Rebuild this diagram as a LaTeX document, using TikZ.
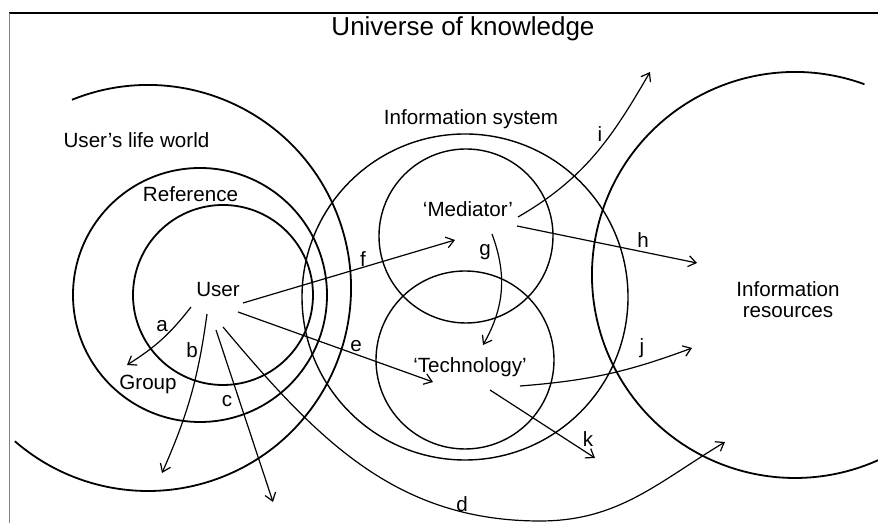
\documentclass[tikz,border=0pt]{standalone}
\usepackage{fontspec}
\setmainfont{Liberation Sans}
\usetikzlibrary{arrows.meta}
\begin{document}
\begin{tikzpicture}[x=0.5pt,y=0.5pt,
    ring/.style={line width=0.9pt},
    lbl/.style={anchor=base,inner sep=0pt,font=\fontsize{10.3}{11}\selectfont},
    >={Straight Barb[length=3.8pt,width=5.5pt]}]
  \useasboundingbox (0,0) rectangle (878,523);
  \draw[line width=0.8pt] (9,510) -- (878,510);
  \draw[gray,line width=0.5pt] (9,510) -- (9,0);
  \draw[ring] (148,235) ++(112:203) arc[start angle=112,end angle=-131,radius=203];
  \draw[ring] (200,228) circle[radius=127];
  \draw[ring] (223,228) circle[radius=90];
  \draw[ring,line width=0.7pt] (465,226) circle[radius=163];
  \draw[ring,line width=0.7pt] (466,287) circle[radius=87];
  \draw[ring,line width=0.7pt] (465,163) circle[radius=89];
  \draw[ring] (795,248) ++(70:203) arc[start angle=70,end angle=296,radius=203];
  \draw
    (463,487) node[lbl,font=\fontsize{13}{15}\selectfont] (universe){Universe of knowledge}
    (136.5,375) node[lbl] (lifeworld){User’s life world}
    (190.5,321) node[lbl] (reference){Reference}
    (218,226) node[lbl] (user){User}
    (148,133) node[lbl] (group){Group}
    (471,398) node[lbl] (infosys){Information system}
    (468,306) node[lbl] (mediator){‘Mediator’}
    (470,150) node[lbl] (technology){‘Technology’}
    (788,223) node[lbl,anchor=center,align=center,font=\fontsize{10.3}{10.5}\selectfont] (resources){Information\\resources}
    (162,191) node[lbl] (la){a}
    (192,165) node[lbl] (lb){b}
    (227,116) node[lbl] (lc){c}
    (462,11) node[lbl] (ld){d}
    (356,171) node[lbl] (le){e}
    (363,256) node[lbl] (lf){f}
    (485,267) node[lbl] (lg){g}
    (643,275) node[lbl] (lh){h}
    (600,381) node[lbl] (li){i}
    (642,169) node[lbl] (lj){j}
    (588,76) node[lbl] (lk){k};
  \path
    (191,216) coordinate (a0) (127,158) coordinate (a1)
    (207,209) coordinate (b0) (162,50) coordinate (b1)
    (216,193) coordinate (c0) (273,21) coordinate (c1)
    (223,196) coordinate (d0) (540,2) coordinate (d2) (725,81) coordinate (d1)
    (238,211) coordinate (e0) (433,141) coordinate (e1)
    (243,220) coordinate (f0) (455,283) coordinate (f1)
    (492,289) coordinate (g0) (483,178) coordinate (g1)
    (517,297) coordinate (h0) (697,260) coordinate (h1)
    (518,306) coordinate (i0) (650,451) coordinate (i1)
    (520,137) coordinate (j0) (692,175) coordinate (j1)
    (490,133) coordinate (k0) (595,65) coordinate (k1);
  \begin{scope}[->,line width=0.6pt]
    \draw (a0) to[bend left=10] (a1);
    \draw (b0) to[bend left=8] (b1);
    \draw (c0) to (c1);
    \draw (d0) to[out=-50,in=180] (d2) to[out=0,in=211] (d1);
    \draw (e0) to (e1);
    \draw (f0) to (f1);
    \draw (g0) to[bend left=25] (g1);
    \draw (h0) to (h1);
    \draw (i0) to[out=30,in=240] (i1);
    \draw (j0) to[bend right=8] (j1);
    \draw (k0) to (k1);
  \end{scope}
\end{tikzpicture}
\end{document}
